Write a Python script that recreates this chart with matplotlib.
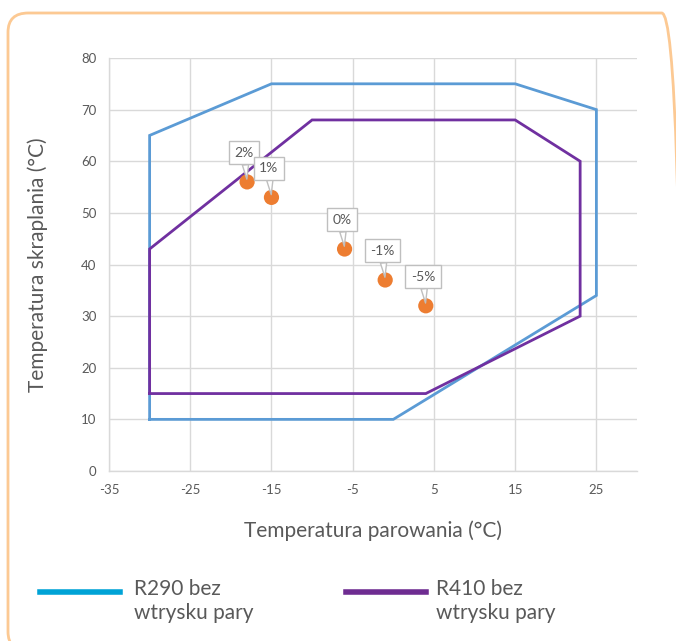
import matplotlib
matplotlib.use("Agg")
import matplotlib.pyplot as plt
from matplotlib.patches import FancyBboxPatch
from matplotlib.lines import Line2D

plt.rcParams['font.family'] = ['Lato', 'DejaVu Sans']
plt.rcParams['axes.unicode_minus'] = False

# Data
r290_x = [-30, -30, -15, 15, 25, 25, 0, -30]
r290_y = [10, 65, 75, 75, 70, 34, 10, 10]
r410_x = [-30, -30, -10, 15, 23, 23, 4, -30]
r410_y = [15, 43, 68, 68, 60, 30, 15, 15]
pts_x = [-18, -15, -6, -1, 4]
pts_y = [56, 53, 43, 37, 32]
pts_labels = ['2%', '1%', '0%', '-1%', '-5%']
x_ticks = [-35, -25, -15, -5, 5, 15, 25]
y_ticks = [0, 10, 20, 30, 40, 50, 60, 70, 80]
legend_labels = ['R290 bez\nwtrysku pary', 'R410 bez\nwtrysku pary']

txt = '#595959'
fig = plt.figure(figsize=(6.76, 6.41), dpi=100)

# rounded orange frame
frame = FancyBboxPatch((8/676, -10/641), (682-8)/676, (641-13+10)/641,
                       boxstyle="round,pad=0,rounding_size=0.03",
                       transform=fig.transFigure, fill=False,
                       ec='#FCC993', lw=2, clip_on=False)
fig.patches.append(frame)

ax = fig.add_axes([109/676, 1-471/641, (637-109)/676, (471-58)/641])
ax.set_xlim(-35, 30)
ax.set_ylim(0, 80)
ax.set_xticks(x_ticks)
ax.set_yticks(y_ticks)
ax.grid(True, color='#D9D9D9', lw=1)
ax.set_axisbelow(True)
for s in ['top', 'right']:
    ax.spines[s].set_visible(False)
for s in ['left', 'bottom']:
    ax.spines[s].set_color('#D9D9D9')
    ax.spines[s].set_linewidth(1)
ax.tick_params(length=0, colors=txt, labelsize=9.5, pad=9)

ax.plot(r290_x, r290_y, color='#5B9BD5', lw=2, solid_joinstyle='miter')
ax.plot(r410_x, r410_y, color='#7030A0', lw=2, solid_joinstyle='miter')
ax.scatter(pts_x, pts_y, s=120, color='#ED7D31', zorder=5, edgecolors='none')

for x, y, lab in zip(pts_x, pts_y, pts_labels):
    ax.annotate(lab, xy=(x, y), xytext=(-2, 21), textcoords='offset points',
                ha='center', va='center', fontsize=10, color=txt, zorder=6,
                bbox=dict(boxstyle='square,pad=0.4', fc='white', ec='#BFBFBF', lw=1),
                arrowprops=dict(arrowstyle='wedge,tail_width=0.45,shrink_factor=0.5',
                                fc='white', ec='#BFBFBF', lw=1, shrinkA=0, shrinkB=2))

ax.set_xlabel('Temperatura parowania (°C)', fontsize=15, color=txt)
ax.set_ylabel('Temperatura skraplania (°C)', fontsize=15, color=txt)
ax.xaxis.set_label_coords(0.5, (471-531)/413)
ax.yaxis.set_label_coords((38-109)/528, 0.5)
ax.xaxis.label.set_va('center')
ax.yaxis.label.set_va('center')

# legend drawn in figure coordinates
fig.add_artist(Line2D([40/676, 120/676], [1-592/641, 1-592/641], color='#00A3D6', lw=4,
                      transform=fig.transFigure))
fig.add_artist(Line2D([346/676, 426/676], [1-592/641, 1-592/641], color='#6E2C91', lw=4,
                      transform=fig.transFigure))
fig.text(134/676, 1-601/641, legend_labels[0], fontsize=15, color=txt, va='center',
         ha='left', linespacing=1.2)
fig.text(436/676, 1-601/641, legend_labels[1], fontsize=15, color=txt, va='center',
         ha='left', linespacing=1.2)

fig.savefig('out.png', dpi=100)
